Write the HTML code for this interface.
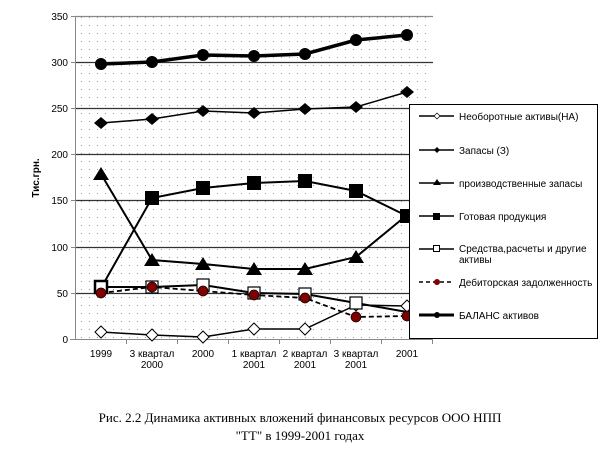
<!DOCTYPE html>
<html><head><meta charset="utf-8"><style>
body{margin:0;background:#fff;width:604px;height:463px;overflow:hidden}
svg{display:block}
text{font-family:"Liberation Sans",sans-serif;font-size:10px;fill:#000}
text.cap{font-family:"Liberation Serif",serif;font-size:13px}
</style></head><body>
<svg width="604" height="463" viewBox="0 0 604 463">
<defs>
<pattern id="dots" width="8" height="8" patternUnits="userSpaceOnUse"><rect x="1" y="1" width="1" height="1" fill="#999"/></pattern>
</defs>
<rect x="75" y="16" width="358" height="324" fill="url(#dots)"/>
<g stroke="#333" stroke-width="1.2">
<line x1="75" y1="16.5" x2="433" y2="16.5" stroke="#888"/>
<line x1="75" y1="62.5" x2="433" y2="62.5"/>
<line x1="75" y1="108.5" x2="433" y2="108.5"/>
<line x1="75" y1="154.5" x2="433" y2="154.5"/>
<line x1="75" y1="200.5" x2="433" y2="200.5"/>
<line x1="75" y1="247.5" x2="433" y2="247.5"/>
<line x1="75" y1="293.5" x2="433" y2="293.5"/>
</g>
<g stroke="#888" stroke-width="1">
<line x1="75.5" y1="16" x2="75.5" y2="340"/>
<line x1="70" y1="339.5" x2="433" y2="339.5"/>
<line x1="71" y1="16.5" x2="75" y2="16.5"/><line x1="71" y1="62.5" x2="75" y2="62.5"/><line x1="71" y1="108.5" x2="75" y2="108.5"/><line x1="71" y1="154.5" x2="75" y2="154.5"/><line x1="71" y1="200.5" x2="75" y2="200.5"/><line x1="71" y1="247.5" x2="75" y2="247.5"/><line x1="71" y1="293.5" x2="75" y2="293.5"/>
<line x1="126.5" y1="339" x2="126.5" y2="344"/><line x1="177.5" y1="339" x2="177.5" y2="344"/><line x1="228.5" y1="339" x2="228.5" y2="344"/><line x1="279.5" y1="339" x2="279.5" y2="344"/><line x1="330.5" y1="339" x2="330.5" y2="344"/><line x1="381.5" y1="339" x2="381.5" y2="344"/><line x1="432.5" y1="339" x2="432.5" y2="344"/>
</g>
<g text-anchor="end">
<text x="68" y="20">350</text><text x="68" y="66">300</text><text x="68" y="112">250</text><text x="68" y="158">200</text><text x="68" y="204">150</text><text x="68" y="251">100</text><text x="68" y="297">50</text><text x="68" y="343">0</text>
</g>
<text transform="translate(39,178) rotate(-90)" text-anchor="middle" font-weight="bold">Тис.грн.</text>
<g text-anchor="middle">
<text x="101" y="357">1999</text>
<text x="152" y="357">3 квартал</text><text x="152" y="368">2000</text>
<text x="203" y="357">2000</text>
<text x="254" y="357">1 квартал</text><text x="254" y="368">2001</text>
<text x="305" y="357">2 квартал</text><text x="305" y="368">2001</text>
<text x="356" y="357">3 квартал</text><text x="356" y="368">2001</text>
<text x="407" y="357">2001</text>
</g>
<polyline points="101,332 152,335 203,337 254,329 305,329 356,305 407,306" fill="none" stroke="#000" stroke-width="1.5"/>
<g fill="#fff" stroke="#000" stroke-width="1"><path d="M101,326l6,6l-6,6l-6,-6z"/><path d="M152,329l6,6l-6,6l-6,-6z"/><path d="M203,331l6,6l-6,6l-6,-6z"/><path d="M254,323l6,6l-6,6l-6,-6z"/><path d="M305,323l6,6l-6,6l-6,-6z"/><path d="M356,299l6,6l-6,6l-6,-6z"/><path d="M407,300l6,6l-6,6l-6,-6z"/></g>
<polyline points="101,123 152,119 203,111 254,113 305,109 356,107 407,92" fill="none" stroke="#000" stroke-width="1.5"/>
<g fill="#000"><path d="M101,117l7,6l-7,6l-7,-6z"/><path d="M152,113l7,6l-7,6l-7,-6z"/><path d="M203,105l7,6l-7,6l-7,-6z"/><path d="M254,107l7,6l-7,6l-7,-6z"/><path d="M305,103l7,6l-7,6l-7,-6z"/><path d="M356,101l7,6l-7,6l-7,-6z"/><path d="M407,86l7,6l-7,6l-7,-6z"/></g>
<polyline points="101,174 152,260 203,264 254,269 305,269 356,257 407,215" fill="none" stroke="#000" stroke-width="2"/>
<g fill="#000"><path d="M101,167l8,13h-16z"/><path d="M152,253l8,13h-16z"/><path d="M203,257l8,13h-16z"/><path d="M254,262l8,13h-16z"/><path d="M305,262l8,13h-16z"/><path d="M356,250l8,13h-16z"/></g>
<polyline points="101,288 152,198 203,188 254,183 305,181 356,191 407,216" fill="none" stroke="#000" stroke-width="2"/>
<g fill="#000"><rect x="145" y="191" width="14" height="14"/><rect x="196" y="181" width="14" height="14"/><rect x="247" y="176" width="14" height="14"/><rect x="298" y="174" width="14" height="14"/><rect x="349" y="184" width="14" height="14"/><rect x="400" y="209" width="14" height="14"/></g>
<polyline points="101,287 152,287 203,285 254,293 305,294 356,303 407,312" fill="none" stroke="#000" stroke-width="2"/>
<g fill="#fff" stroke="#000" stroke-width="1.2"><rect x="95" y="281" width="12" height="12" stroke-width="2.5"/><rect x="146" y="281" width="12" height="12"/><rect x="197" y="279" width="12" height="12"/><rect x="248" y="287" width="12" height="12"/><rect x="299" y="288" width="12" height="12"/><rect x="350" y="297" width="12" height="12"/></g>
<polyline points="101,293 152,287 203,291 254,295 305,298 356,317 407,316" fill="none" stroke="#000" stroke-width="1.8" stroke-dasharray="5,3"/>
<g fill="#800000" stroke="#000" stroke-width="0.7"><circle cx="101" cy="293" r="5"/><circle cx="152" cy="287" r="5"/><circle cx="203" cy="291" r="5"/><circle cx="254" cy="295" r="5"/><circle cx="305" cy="298" r="5"/><circle cx="356" cy="317" r="5"/><circle cx="407" cy="316" r="5"/></g>
<polyline points="101,64 152,62 203,55 254,56 305,54 356,40 407,35" fill="none" stroke="#000" stroke-width="3.5"/>
<g fill="#000"><circle cx="101" cy="64" r="6"/><circle cx="152" cy="62" r="6"/><circle cx="203" cy="55" r="6"/><circle cx="254" cy="56" r="6"/><circle cx="305" cy="54" r="6"/><circle cx="356" cy="40" r="6"/><circle cx="407" cy="35" r="6"/></g>
<rect x="409.5" y="104.5" width="188" height="234" fill="#fff" stroke="#000"/>
<g stroke="#000">
<line x1="419" y1="116" x2="454" y2="116" stroke-width="1.5"/>
<line x1="419" y1="150" x2="454" y2="150" stroke-width="1.5"/>
<line x1="419" y1="183" x2="454" y2="183" stroke-width="1.5"/>
<line x1="419" y1="216" x2="454" y2="216" stroke-width="1.5"/>
<line x1="419" y1="249" x2="454" y2="249" stroke-width="1.5"/>
<line x1="419" y1="282" x2="454" y2="282" stroke-width="1.5" stroke-dasharray="4,3"/>
<line x1="419" y1="315" x2="454" y2="315" stroke-width="3"/>
</g>
<path d="M437,113l3,3l-3,3l-3,-3z" fill="#fff" stroke="#000" stroke-width="0.7"/>
<path d="M437,147l3,3l-3,3l-3,-3z" fill="#000"/>
<path d="M437,179l4,6h-8z" fill="#000"/>
<rect x="433" y="213" width="7" height="7" fill="#000"/>
<rect x="433.5" y="245.5" width="6" height="6" fill="#fff" stroke="#000"/>
<circle cx="437" cy="282" r="3" fill="#800000"/>
<circle cx="437" cy="315" r="3" fill="#000"/>
<g font-size="9.5">
<text x="459" y="120">Необоротные активы(НА)</text>
<text x="459" y="154">Запасы (З)</text>
<text x="459" y="187">производственные запасы</text>
<text x="459" y="220">Готовая продукция</text>
<text x="459" y="252">Средства,расчеты и другие</text>
<text x="459" y="263">активы</text>
<text x="459" y="286">Дебиторская задолженность</text>
<text x="459" y="319">БАЛАНС активов</text>
</g>
<text class="cap" x="300" y="422" text-anchor="middle">Рис. 2.2 Динамика активных вложений финансовых ресурсов ООО НПП</text>
<text class="cap" x="300" y="440" text-anchor="middle">"ТТ" в 1999-2001 годах</text>
</svg>
</body></html>
